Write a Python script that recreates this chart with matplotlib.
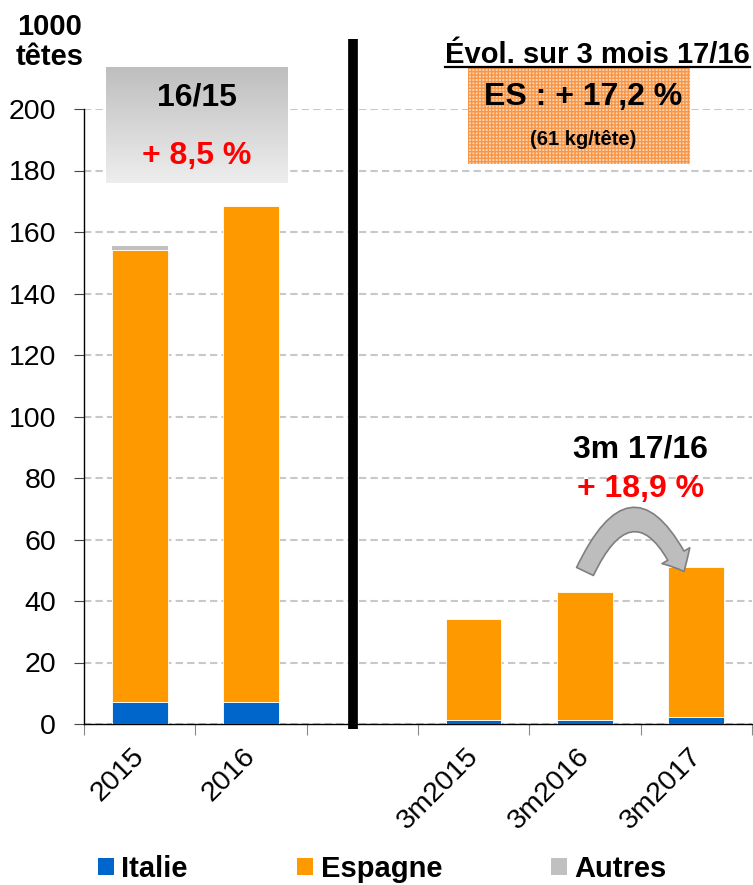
import numpy as np
import matplotlib
matplotlib.use('Agg')
import matplotlib.pyplot as plt
from matplotlib.colors import LinearSegmentedColormap
from matplotlib.patches import Patch, Rectangle, FancyArrowPatch
from matplotlib.lines import Line2D
from matplotlib.transforms import ScaledTranslation

plt.rcParams['font.family'] = ['Liberation Sans', 'DejaVu Sans']

# data (1000 têtes)
categories = ['2015', '2016', '', '3m2015', '3m2016', '3m2017']
italie = [7.0, 7.2, np.nan, 1.4, 1.2, 2.3]
espagne = [147.0, 161.4, np.nan, 32.9, 41.7, 48.8]
autres = [1.5, 0.0, np.nan, 0.0, 0.0, 0.0]
series_names = ['Italie', 'Espagne', 'Autres']
series_colors = ['#0066CC', '#FF9900', '#C0C0C0']

W, H = 753, 885
fig = plt.figure(figsize=(W / 100, H / 100), dpi=100)
ax = fig.add_axes([84 / W, 1 - 724 / H, (752 - 84) / W, (724 - 109) / H])

x = np.arange(len(categories))
it = np.array(italie)
es = np.array(espagne)
au = np.array(autres)
ax.bar(x, it, width=0.5, color=series_colors[0], edgecolor='white', linewidth=0.6, zorder=3)
ax.bar(x, es, width=0.5, bottom=it, color=series_colors[1], edgecolor='white', linewidth=0.6, zorder=3)
ax.bar(x, au, width=0.5, bottom=it + es, color=series_colors[2], edgecolor='none', zorder=3)

ax.set_xlim(-0.5, len(categories) - 0.5)
ax.set_ylim(0, 200)
ax.set_yticks(range(0, 201, 20))
ax.tick_params(axis='y', labelsize=20.5, length=7, pad=13, color='#444444')
ax.yaxis.grid(True, color='#C8C8C8', linewidth=1.5, linestyle=(0, (3.5, 2)))
ax.set_axisbelow(True)

ax.set_xticks(np.arange(-0.5, len(categories), 1))
ax.set_xticklabels([])
ax.tick_params(axis='x', which='major', length=8, color='#888888')
ax.set_xticks(x, minor=True)
ax.set_xticklabels(categories, minor=True, rotation=45, ha='right', va='top',
                   rotation_mode='anchor', fontsize=20.5)
ax.tick_params(axis='x', which='minor', length=0, pad=14)
for lab in ax.get_xticklabels(minor=True):
    lab.set_transform(lab.get_transform() + ScaledTranslation(-6 / 72, 0, fig.dpi_scale_trans))

for s in ['top', 'right']:
    ax.spines[s].set_visible(False)
ax.spines['left'].set_linewidth(1.0)
ax.spines['bottom'].set_linewidth(1.0)

# separator between years and 3-month periods
ax.plot([1.92, 1.92], [-1.6, 222.7], color='black', linewidth=7,
        solid_capstyle='butt', clip_on=False, zorder=4)

# curved arrow 3m2016 -> 3m2017
arrow = FancyArrowPatch((4.0, 49.6), (4.89, 49.6),
                        connectionstyle='arc3,rad=-1.05',
                        arrowstyle='simple,head_length=0.4,head_width=0.72,tail_width=0.42',
                        mutation_scale=32, shrinkA=0, shrinkB=0,
                        facecolor='#BDBDBD', edgecolor='#7F7F7F', linewidth=1.2,
                        zorder=5, clip_on=False)
ax.add_patch(arrow)
ax.text(4.5, 89.3, '3m 17/16', ha='center', va='center', fontsize=23, weight='bold')
ax.text(4.5, 76.3, '+ 18,9 %', ha='center', va='center', fontsize=23, weight='bold', color='#FF0000')

# y unit label
fig.text(50 / W, 1 - 42 / H, '1000\ntêtes', ha='center', va='center', fontsize=21,
         weight='bold', linespacing=1.1)

# grey gradient box 16/15
gbox = fig.add_axes([106 / W, 1 - 183 / H, 182 / W, 116 / H])
gbox.imshow(np.linspace(0, 1, 256).reshape(-1, 1), aspect='auto', extent=[0, 1, 0, 1],
            cmap=LinearSegmentedColormap.from_list('g', ['#BEBEBE', '#EEEEEE']))
gbox.set_xlim(0, 1)
gbox.set_ylim(0, 1)
gbox.axis('off')
gbox.text(0.5, 0.74, '16/15', ha='center', va='center', fontsize=23, weight='bold')
gbox.text(0.5, 0.23, '+ 8,5 %', ha='center', va='center', fontsize=23, weight='bold', color='#FF0000')

# orange patterned box
obox = fig.add_axes([468 / W, 1 - 164 / H, 222 / W, 97 / H])
obox.set_xlim(0, 1)
obox.set_ylim(0, 1)
obox.axis('off')
obox.add_patch(Rectangle((0, 0), 1, 1, facecolor='#FCD6B8', edgecolor='#F79646',
                         hatch='+++++', linewidth=0))
obox.text(0.52, 0.69, 'ES : + 17,2 %', ha='center', va='center', fontsize=23, weight='bold')
obox.text(0.52, 0.25, '(61 kg/tête)', ha='center', va='center', fontsize=14.5, weight='bold')

title = fig.text(750 / W, 1 - 63 / H, 'Évol. sur 3 mois 17/16', ha='right', va='baseline',
                 fontsize=21, weight='bold')
fig.canvas.draw()
bb = title.get_window_extent(fig.canvas.get_renderer())
fig.add_artist(Line2D([bb.x0 / W, bb.x1 / W], [1 - 67 / H, 1 - 67 / H],
                      transform=fig.transFigure, color='black', linewidth=1.6))

handles = [Patch(facecolor=c) for c in series_colors]
fig.legend(handles, series_names, loc='center left', bbox_to_anchor=(98 / W, 1 - 869 / H),
           ncol=3, frameon=False, prop={'size': 21, 'weight': 'bold'},
           handlelength=0.55, handleheight=0.55, handletextpad=0.25,
           columnspacing=3.75, borderaxespad=0, borderpad=0)

fig.savefig('out.png', dpi=100)
